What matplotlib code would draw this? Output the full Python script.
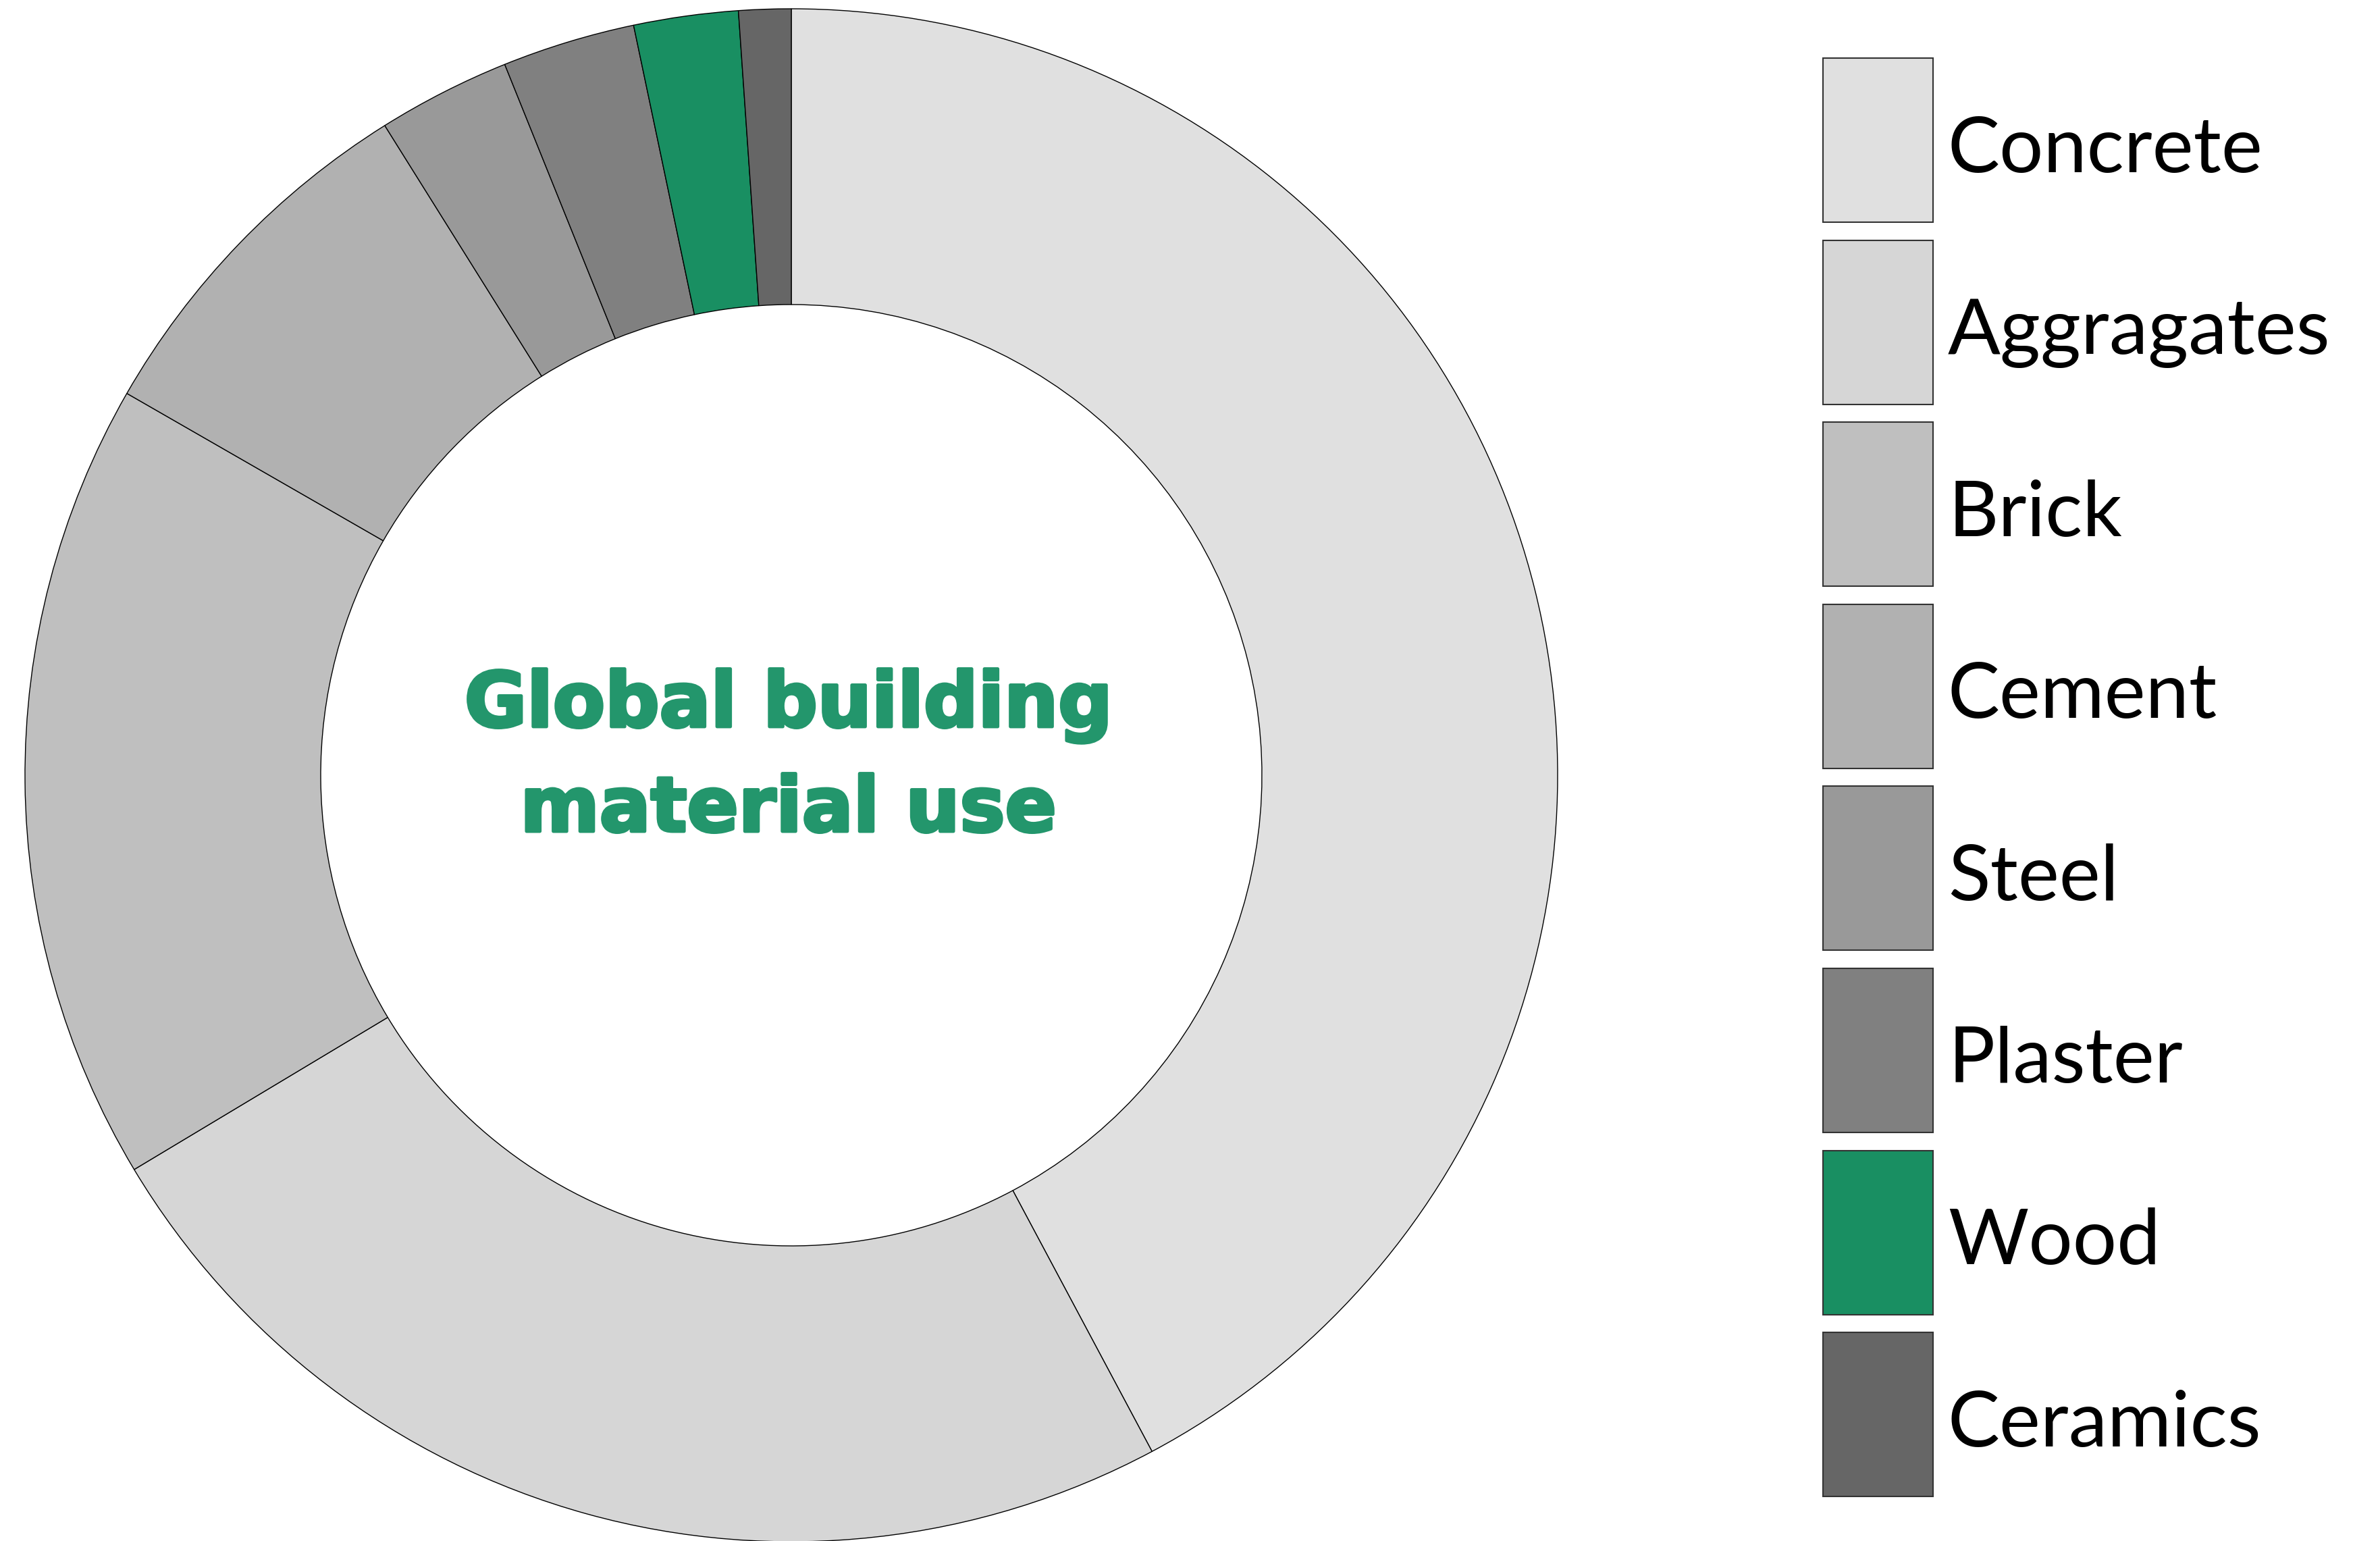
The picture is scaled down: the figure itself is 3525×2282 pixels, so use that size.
import matplotlib
matplotlib.use("Agg")
import matplotlib.pyplot as plt
import matplotlib.patheffects as pe
from matplotlib.patches import Rectangle

# ---- data ----
materials = ["Concrete", "Aggragates", "Brick", "Cement", "Steel", "Plaster", "Wood", "Ceramics"]
shares = [42.2, 24.2, 16.9, 7.8, 2.8, 2.8, 2.2, 1.1]
colors = ["#e0e0e0", "#d6d6d6", "#bfbfbf", "#b1b1b1", "#999999", "#808080", "#198f62", "#666666"]
title_lines = ["Global building", "material use"]

W, H, DPI = 3525, 2282, 100
fig = plt.figure(figsize=(W / DPI, H / DPI), dpi=DPI)
fig.patch.set_facecolor("white")
ax = fig.add_axes([0, 0, 1, 1])

cx, cy = 1172, H - 1148
R_out, R_in = 1135, 697

ax.pie(shares, colors=colors, startangle=90, counterclock=False,
       radius=R_out, center=(cx, cy),
       wedgeprops=dict(width=R_out - R_in, edgecolor="black", linewidth=1.0))

ax.set_xlim(0, W)
ax.set_ylim(0, H)
ax.set_aspect("equal")
ax.axis("off")

# centre title
title_color = "#23966c"
heavy = [pe.withStroke(linewidth=3.5, foreground=title_color)]
ax.text(cx - 4, H - 1076, title_lines[0], ha="center", va="baseline",
        fontsize=81, fontfamily="DejaVu Sans", fontweight="bold", color=title_color,
        path_effects=heavy)
ax.text(cx - 4, H - 1231, title_lines[1], ha="center", va="baseline",
        fontsize=81, fontfamily="DejaVu Sans", fontweight="bold", color=title_color,
        path_effects=heavy)

# legend
box_x, box_w, box_h = 2700, 163, 243
top0, pitch = 86, 269.6
for i, (lab, col) in enumerate(zip(materials, colors)):
    top = top0 + i * pitch
    ax.add_patch(Rectangle((box_x, H - top - box_h), box_w, box_h,
                           facecolor=col, edgecolor="#333333", linewidth=1.5))
    yc = top + box_h / 2
    ax.text(2885, H - (yc + 47), lab, ha="left", va="baseline",
            fontsize=83, fontfamily="Lato", color="black")

fig.savefig("out.png", dpi=DPI, facecolor="white")
